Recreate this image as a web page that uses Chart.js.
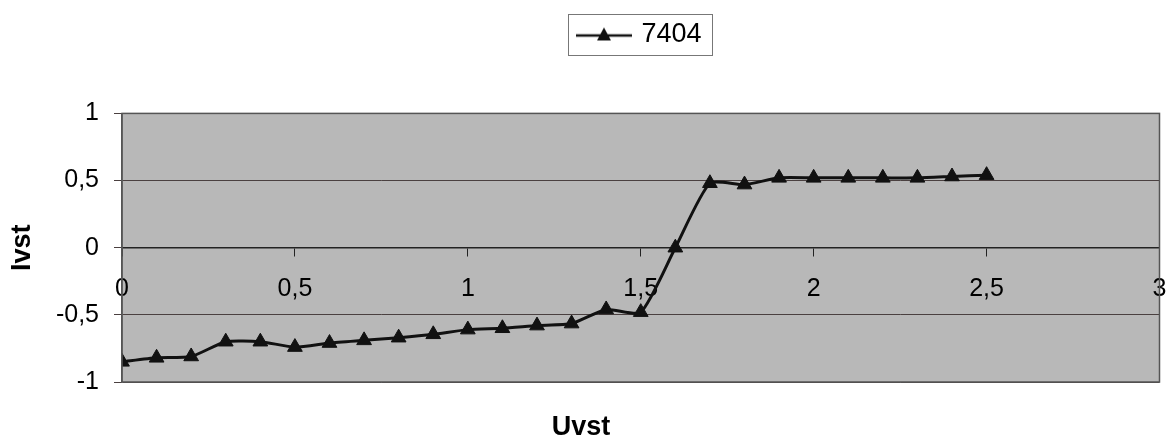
<!DOCTYPE html>
<html>
<head>
<meta charset="utf-8">
<script src="https://cdn.jsdelivr.net/npm/chart.js@4"></script>
<style>
  body { margin: 0; background: #fff; }
  #wrap { width: 1169px; height: 440px; }
</style>
</head>
<body>
<div id="wrap"><canvas id="chart"></canvas></div>
<script>
// data
const uvst = [0, 0.1, 0.2, 0.3, 0.4, 0.5, 0.6, 0.7, 0.8, 0.9, 1.0, 1.1, 1.2,
  1.3, 1.4, 1.5, 1.6, 1.7, 1.8, 1.9, 2.0, 2.1, 2.2, 2.3, 2.4, 2.5];
const ivst = [-0.85, -0.82, -0.81, -0.70, -0.70, -0.74, -0.71, -0.69, -0.67, -0.645, -0.61, -0.60, -0.58,
  -0.565, -0.46, -0.48, 0.0, 0.48, 0.47, 0.52, 0.52, 0.52, 0.52, 0.52, 0.53, 0.54];
const seriesName = '7404';
const xTitle = 'Uvst';
const yTitle = 'Ivst';

Chart.defaults.font.family = "'Liberation Sans', Arial, sans-serif";
Chart.defaults.color = '#000';

const commaFmt = (v) => String(v).replace('.', ',');

// legend symbol: line with a triangle on it
const legendSymbol = document.createElement('canvas');
legendSymbol.width = 56;
legendSymbol.height = 18;
(() => {
  const c = legendSymbol.getContext('2d');
  c.strokeStyle = '#111';
  c.lineWidth = 2.5;
  c.beginPath();
  c.moveTo(0, 10);
  c.lineTo(56, 10);
  c.stroke();
  c.fillStyle = '#111';
  c.beginPath();
  c.moveTo(28, 2);
  c.lineTo(35, 15);
  c.lineTo(21, 15);
  c.closePath();
  c.fill();
})();

const plotFrame = {
  id: 'plotFrame',
  beforeDraw(chart) {
    const { ctx, chartArea: a } = chart;
    ctx.save();
    ctx.fillStyle = '#b8b8b8';
    ctx.fillRect(a.left, a.top, a.right - a.left, a.bottom - a.top);
    ctx.restore();
  },
  afterDraw(chart) {
    const { ctx, chartArea: a } = chart;
    ctx.save();
    ctx.strokeStyle = '#555';
    ctx.lineWidth = 1.5;
    ctx.strokeRect(a.left, a.top, a.right - a.left, a.bottom - a.top);
    // frame around the legend
    const hb = chart.legend.legendHitBoxes[0];
    if (hb) {
      ctx.strokeStyle = '#777';
      ctx.lineWidth = 1;
      ctx.strokeRect(Math.round(hb.left - 12) + 0.5, Math.round(hb.top - 7) + 0.5,
        Math.round(hb.width + 22), Math.round(hb.height + 14));
    }
    ctx.restore();
  }
};

new Chart(document.getElementById('chart'), {
  type: 'line',
  data: {
    datasets: [{
      label: seriesName,
      data: uvst.map((x, i) => ({ x: x, y: ivst[i] })),
      borderColor: '#111',
      backgroundColor: '#111',
      borderWidth: 3,
      pointStyle: 'triangle',
      pointRadius: 8.5,
      pointBorderWidth: 1,
      tension: 0.2,
      fill: false
    }]
  },
  options: {
    responsive: true,
    maintainAspectRatio: false,
    animation: false,
    layout: { padding: { left: 0, right: 7, top: 0, bottom: 1.5 } },
    plugins: {
      legend: {
        position: 'top',
        fullSize: false,
        labels: {
          usePointStyle: true,
          pointStyle: legendSymbol,
          pointStyleWidth: 48,
          padding: 21,
          font: { size: 27 },
          color: '#000'
        }
      },
      subtitle: {
        display: true,
        text: '',
        weight: 500,
        font: { size: 12 },
        padding: { top: 20, bottom: 21 }
      },
      title: {
        display: true,
        position: 'bottom',
        text: xTitle,
        font: { size: 27, weight: 'bold', lineHeight: 1 },
        color: '#000',
        padding: { top: 32.5, bottom: -3 }
      },
      tooltip: { enabled: false }
    },
    scales: {
      x: {
        type: 'linear',
        position: { y: 0 },
        min: 0,
        max: 3,
        ticks: { stepSize: 0.5, font: { size: 25 }, padding: 18, callback: commaFmt, maxRotation: 0 },
        grid: { drawOnChartArea: false, drawTicks: true, tickLength: 8, color: '#222' },
        border: { display: true, color: '#222', width: 1.5 },
        afterFit(scale) { scale.paddingLeft = 0; scale.paddingRight = 0; }
      },
      y: {
        min: -1,
        max: 1,
        ticks: { stepSize: 0.5, font: { size: 25 }, padding: 15, callback: commaFmt },
        grid: { color: '#4a4040', lineWidth: 1, tickLength: 8 },
        border: { color: '#555', width: 1.5 },
        title: { display: true, text: yTitle, font: { size: 27, weight: 'bold' }, padding: { top: 6, bottom: 0 } },
        afterFit(scale) { scale.width = 122; }
      }
    }
  },
  plugins: [plotFrame]
});
</script>
</body>
</html>
